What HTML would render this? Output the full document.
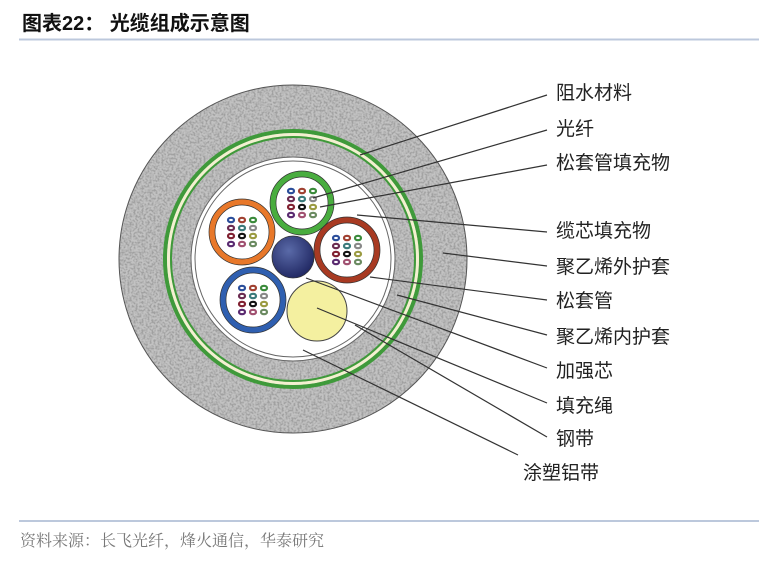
<!DOCTYPE html>
<html><head><meta charset="utf-8"><style>
html,body{margin:0;padding:0;background:#fff;width:759px;height:567px;overflow:hidden}
</style></head><body>
<svg width="759" height="567" viewBox="0 0 759 567" xmlns="http://www.w3.org/2000/svg">
<defs>
<filter id="n" x="0" y="0" width="100%" height="100%" filterUnits="userSpaceOnUse">
<feTurbulence type="fractalNoise" baseFrequency="0.5" numOctaves="2" seed="3"/>
<feColorMatrix type="matrix" values="0 0 0 0 0.25  0 0 0 0 0.25  0 0 0 0 0.25  -4 0 0 0 2.3"/>
</filter>
<clipPath id="ring"><circle cx="293" cy="259" r="174"/></clipPath>
<radialGradient id="bl" cx="0.4" cy="0.35" r="0.7"><stop offset="0" stop-color="#5a6aa8"/><stop offset="1" stop-color="#1e2560"/></radialGradient>
</defs>
<text x="22" y="30" font-family="Liberation Sans, Noto Sans CJK SC, sans-serif" font-size="20" font-weight="bold" fill="#111">图表22：  光缆组成示意图</text>
<line x1="19" y1="39.5" x2="759" y2="39.5" stroke="#bcc8dc" stroke-width="2"/>

<circle cx="293" cy="259" r="174" fill="#c2c2c2"/>
<g clip-path="url(#ring)"><rect x="119" y="85" width="348" height="348" fill="#fff" filter="url(#n)" opacity="0.6"/></g>
<circle cx="293" cy="259" r="174" fill="none" stroke="#555" stroke-width="1"/>
<circle cx="293" cy="259" r="128" fill="none" stroke="#3f9a3a" stroke-width="4"/>
<circle cx="293" cy="259" r="124.5" fill="none" stroke="#f3f0d0" stroke-width="3"/>
<circle cx="293" cy="259" r="122" fill="none" stroke="#3f9a3a" stroke-width="2"/>
<circle cx="293" cy="259" r="102" fill="#fff" stroke="#666" stroke-width="1"/>
<circle cx="293" cy="259" r="98" fill="#fff" stroke="#666" stroke-width="1"/>

<g stroke-width="6" fill="#fff">
<circle cx="302" cy="203" r="29" stroke="#49ad3f"/>
<circle cx="242" cy="232" r="30" stroke="#e8782a"/>
<circle cx="347" cy="250" r="30" stroke="#a83a22"/>
<circle cx="253" cy="300" r="30" stroke="#2f5fb0"/>
</g>
<g stroke="#333" stroke-width="0.7" fill="none">
<circle cx="302" cy="203" r="32"/><circle cx="302" cy="203" r="26"/>
<circle cx="242" cy="232" r="33"/><circle cx="242" cy="232" r="27"/>
<circle cx="347" cy="250" r="33"/><circle cx="347" cy="250" r="27"/>
<circle cx="253" cy="300" r="33"/><circle cx="253" cy="300" r="27"/>
</g>
<g fill="none" stroke-width="2.2">
<g transform="translate(302,203)">
<ellipse cx="-11" cy="-12" rx="3" ry="2.2" stroke="#2a4d9a"/><ellipse cx="0" cy="-12" rx="3" ry="2.2" stroke="#a04030"/><ellipse cx="11" cy="-12" rx="3" ry="2.2" stroke="#3a8a3a"/>
<ellipse cx="-11" cy="-4" rx="3" ry="2.2" stroke="#6a2a50"/><ellipse cx="0" cy="-4" rx="3" ry="2.2" stroke="#3a7a7a"/><ellipse cx="11" cy="-4" rx="3" ry="2.2" stroke="#888"/>
<ellipse cx="-11" cy="4" rx="3" ry="2.2" stroke="#802030"/><ellipse cx="0" cy="4" rx="3" ry="2.2" stroke="#111"/><ellipse cx="11" cy="4" rx="3" ry="2.2" stroke="#9a9a40"/>
<ellipse cx="-11" cy="12" rx="3" ry="2.2" stroke="#5a2a70"/><ellipse cx="0" cy="12" rx="3" ry="2.2" stroke="#a05070"/><ellipse cx="11" cy="12" rx="3" ry="2.2" stroke="#6a8a60"/>
</g>
<g transform="translate(242,232)">
<ellipse cx="-11" cy="-12" rx="3" ry="2.2" stroke="#2a4d9a"/><ellipse cx="0" cy="-12" rx="3" ry="2.2" stroke="#a04030"/><ellipse cx="11" cy="-12" rx="3" ry="2.2" stroke="#3a8a3a"/>
<ellipse cx="-11" cy="-4" rx="3" ry="2.2" stroke="#6a2a50"/><ellipse cx="0" cy="-4" rx="3" ry="2.2" stroke="#3a7a7a"/><ellipse cx="11" cy="-4" rx="3" ry="2.2" stroke="#888"/>
<ellipse cx="-11" cy="4" rx="3" ry="2.2" stroke="#802030"/><ellipse cx="0" cy="4" rx="3" ry="2.2" stroke="#111"/><ellipse cx="11" cy="4" rx="3" ry="2.2" stroke="#9a9a40"/>
<ellipse cx="-11" cy="12" rx="3" ry="2.2" stroke="#5a2a70"/><ellipse cx="0" cy="12" rx="3" ry="2.2" stroke="#a05070"/><ellipse cx="11" cy="12" rx="3" ry="2.2" stroke="#6a8a60"/>
</g>
<g transform="translate(347,250)">
<ellipse cx="-11" cy="-12" rx="3" ry="2.2" stroke="#2a4d9a"/><ellipse cx="0" cy="-12" rx="3" ry="2.2" stroke="#a04030"/><ellipse cx="11" cy="-12" rx="3" ry="2.2" stroke="#3a8a3a"/>
<ellipse cx="-11" cy="-4" rx="3" ry="2.2" stroke="#6a2a50"/><ellipse cx="0" cy="-4" rx="3" ry="2.2" stroke="#3a7a7a"/><ellipse cx="11" cy="-4" rx="3" ry="2.2" stroke="#888"/>
<ellipse cx="-11" cy="4" rx="3" ry="2.2" stroke="#802030"/><ellipse cx="0" cy="4" rx="3" ry="2.2" stroke="#111"/><ellipse cx="11" cy="4" rx="3" ry="2.2" stroke="#9a9a40"/>
<ellipse cx="-11" cy="12" rx="3" ry="2.2" stroke="#5a2a70"/><ellipse cx="0" cy="12" rx="3" ry="2.2" stroke="#a05070"/><ellipse cx="11" cy="12" rx="3" ry="2.2" stroke="#6a8a60"/>
</g>
<g transform="translate(253,300)">
<ellipse cx="-11" cy="-12" rx="3" ry="2.2" stroke="#2a4d9a"/><ellipse cx="0" cy="-12" rx="3" ry="2.2" stroke="#a04030"/><ellipse cx="11" cy="-12" rx="3" ry="2.2" stroke="#3a8a3a"/>
<ellipse cx="-11" cy="-4" rx="3" ry="2.2" stroke="#6a2a50"/><ellipse cx="0" cy="-4" rx="3" ry="2.2" stroke="#3a7a7a"/><ellipse cx="11" cy="-4" rx="3" ry="2.2" stroke="#888"/>
<ellipse cx="-11" cy="4" rx="3" ry="2.2" stroke="#802030"/><ellipse cx="0" cy="4" rx="3" ry="2.2" stroke="#111"/><ellipse cx="11" cy="4" rx="3" ry="2.2" stroke="#9a9a40"/>
<ellipse cx="-11" cy="12" rx="3" ry="2.2" stroke="#5a2a70"/><ellipse cx="0" cy="12" rx="3" ry="2.2" stroke="#a05070"/><ellipse cx="11" cy="12" rx="3" ry="2.2" stroke="#6a8a60"/>
</g>
</g>
<circle cx="293" cy="257" r="21" fill="url(#bl)" stroke="#333" stroke-width="0.8"/>
<circle cx="317" cy="311" r="30" fill="#f4f0a0" stroke="#444" stroke-width="1"/>

<g stroke="#333" stroke-width="1.2" fill="none">
<line x1="360" y1="155" x2="547" y2="95"/>
<line x1="313" y1="198" x2="547" y2="130"/>
<line x1="320" y1="207" x2="547" y2="165"/>
<line x1="357" y1="215" x2="547" y2="232"/>
<line x1="443" y1="253" x2="547" y2="266"/>
<line x1="370" y1="277" x2="547" y2="300"/>
<line x1="397" y1="295" x2="547" y2="335"/>
<line x1="306" y1="278" x2="547" y2="368"/>
<line x1="317" y1="308" x2="547" y2="403"/>
<line x1="355" y1="325" x2="547" y2="437"/>
<line x1="303" y1="350" x2="518" y2="455"/>
</g>
<g font-family="Liberation Sans, Noto Sans CJK SC, sans-serif" font-size="19" fill="#222">
<text x="556" y="99">阻水材料</text>
<text x="556" y="135">光纤</text>
<text x="556" y="169">松套管填充物</text>
<text x="556" y="237">缆芯填充物</text>
<text x="556" y="273">聚乙烯外护套</text>
<text x="556" y="307">松套管</text>
<text x="556" y="343">聚乙烯内护套</text>
<text x="556" y="377">加强芯</text>
<text x="556" y="412">填充绳</text>
<text x="556" y="445">钢带</text>
<text x="523" y="479">涂塑铝带</text>
</g>
<line x1="19" y1="521" x2="759" y2="521" stroke="#bcc8dc" stroke-width="2"/>
<text x="20" y="546" font-family="Liberation Serif, Noto Serif CJK SC, serif" font-size="16" fill="#777">资料来源：长飞光纤，烽火通信，华泰研究</text>
</svg>
</body></html>
